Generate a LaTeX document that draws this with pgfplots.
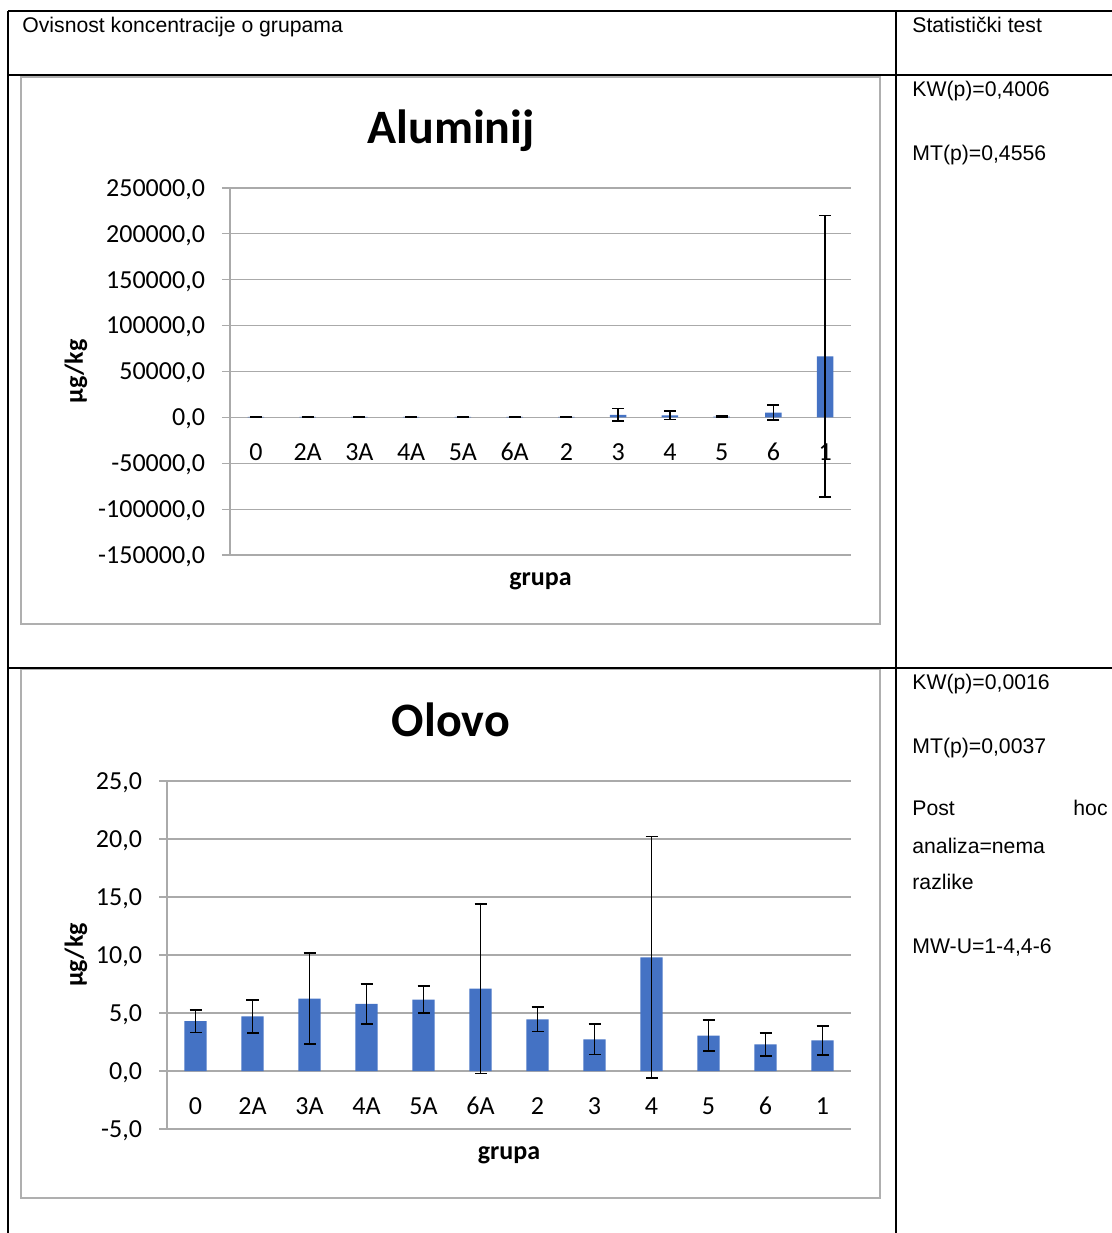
\documentclass[border=0pt]{standalone}
\usepackage{pgfplots}
\usepackage{pgfplotstable}
\pgfplotsset{compat=1.18}
\usepackage{fontspec}
\setmainfont{Carlito}
\newfontfamily\arial{Liberation Sans}
\definecolor{barblue}{RGB}{68,114,196}
\definecolor{gridgray}{RGB}{170,170,170}
\definecolor{framegray}{RGB}{175,175,175}

\pgfplotstableread{
x y e
0 500 400
1 500 400
2 500 400
3 600 500
4 500 400
5 500 400
6 600 500
7 2800 7000
8 2200 4700
9 700 500
10 5200 8200
11 66600 153600
}\alu

\pgfplotstableread{
x y e
0 4.30 0.97
1 4.70 1.40
2 6.25 3.90
3 5.78 1.74
4 6.15 1.17
5 7.10 7.30
6 4.45 1.05
7 2.73 1.30
8 9.80 10.40
9 3.05 1.35
10 2.30 1.00
11 2.64 1.26
}\olo

\pgfplotsset{
  excelbar/.style={
    scale only axis,
    axis x line*=middle,
    axis y line*=left,
    axis line style={gridgray, line width=0.6pt},
    every inner x axis line/.append style={-},
    every outer y axis line/.append style={-},
    xmin=-0.5, xmax=11.5,
    xtick={0,...,11},
    xticklabels={0,2A,3A,4A,5A,6A,2,3,4,5,6,1},
    xtick style={draw=none},
    ymajorgrids,
    grid style={gridgray, line width=0.6pt},
    ytick style={gridgray, line width=0.6pt},
    tick align=outside,
    major tick length=4pt,
    scaled y ticks=false,
    tick label style={font=\fontsize{13}{15}\selectfont, black},
    xticklabel style={anchor=base, yshift=-17.8pt},
    yticklabel style={xshift=-5pt, yshift=-0.8pt, /pgf/number format/.cd, fixed, fixed zerofill, precision=1, use comma, 1000 sep={}, assume math mode=true},
    xlabel={grupa}, ylabel={µg/kg},
    every axis x label/.style={font=\bfseries\fontsize{13}{15}\selectfont, anchor=center},
    every axis y label/.style={font=\bfseries\fontsize{13}{15}\selectfont, rotate=90, anchor=center},
    title style={font=\bfseries\fontsize{24}{28}\selectfont, anchor=center},
    ybar,
  },
  barplot/.style={fill=barblue, draw=none,
    error bars/.cd, y dir=both, y explicit,
    error bar style={draw=black, line width=0.8pt},
    error mark options={rotate=90, mark size=3pt, draw=black, line width=0.8pt}},
}

\begin{document}
\begin{tikzpicture}
\useasboundingbox (0,0) rectangle (556pt,616.5pt);

\begin{scope}[x=0.5pt, y=-0.5pt, shift={(0,616.5pt)}]
  % chart frames
  \draw[framegray, line width=0.6pt] (21,77) rectangle (880,624);
  \draw[framegray, line width=0.6pt] (21,669) rectangle (880,1198);
  % table lines
  \draw[black, line width=1pt] (8,11) -- (1112,11);
  \draw[black, line width=1pt] (8,75) -- (1112,75);
  \draw[black, line width=1pt] (8,668) -- (1112,668);
  \draw[black, line width=1pt] (8,11) -- (8,1233);
  \draw[black, line width=1pt] (896,11) -- (896,1233);
  % table text
  \begin{scope}[every node/.style={font=\arial\fontsize{10.6}{12}\selectfont, inner sep=0pt}]
    \node[anchor=base west] at (22,33) {Ovisnost koncentracije o grupama};
    \node[anchor=base west] at (912,33) {Statistički test};
    \node[anchor=base west] at (912,97) {KW(p)=0,4006};
    \node[anchor=base west] at (912,161) {MT(p)=0,4556};
    \node[anchor=base west] at (912,690) {KW(p)=0,0016};
    \node[anchor=base west] at (912,754) {MT(p)=0,0037};
    \node[anchor=base west] at (912,816) {Post};
    \node[anchor=base east] at (1108,816) {hoc};
    \node[anchor=base west] at (912,854) {analiza=nema};
    \node[anchor=base west] at (912,890) {razlike};
    \node[anchor=base west] at (912,954) {MW-U=1-4,4-6};
  \end{scope}
\end{scope}

% Aluminij
\begin{axis}[excelbar,
  at={(115pt,339pt)}, anchor=south west,
  width=310.5pt, height=183.5pt,
  ymin=-150000, ymax=250000,
  ytick={-150000,-100000,-50000,0,50000,100000,150000,200000,250000},
  bar width=8.35pt,
  title={Aluminij},
  title style={at={(axis description cs:0.356,1.1226)}},
  xlabel style={at={(axis description cs:0.5,-0.071)}},
  ylabel style={at={(axis description cs:-0.248,0.5)}},
]
\addplot[barplot] table[x=x, y=y, y error=e]{\alu};
\end{axis}

% Olovo
\begin{axis}[excelbar,
  at={(83.5pt,52pt)}, anchor=south west,
  width=342pt, height=174pt,
  ymin=-5, ymax=25,
  ytick={-5,0,5,10,15,20,25},
  bar width=11.15pt,
  title={Olovo},
  title style={at={(axis description cs:0.415,1.1405)}},
  xlabel style={at={(axis description cs:0.5,-0.0745)}},
  ylabel style={at={(axis description cs:-0.133,0.5)}},
]
\addplot[barplot] table[x=x, y=y, y error=e]{\olo};
\end{axis}
\end{tikzpicture}
\end{document}
